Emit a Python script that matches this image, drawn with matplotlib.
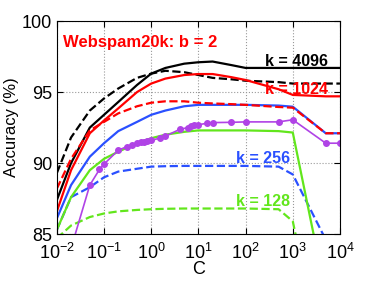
import matplotlib
matplotlib.use("Agg")
import matplotlib.pyplot as plt
import numpy as np

plt.rcParams['font.family'] = ['Liberation Sans', 'DejaVu Sans']
plt.rcParams['mathtext.fontset'] = 'custom'
plt.rcParams['mathtext.rm'] = 'Liberation Sans'
plt.rcParams['mathtext.it'] = 'Liberation Sans:italic'

# C grid for the plain lines
C = [0.01, 0.02, 0.05, 0.1, 0.2, 0.5, 1, 2, 5, 10, 20, 50, 100, 500, 1000, 5000, 10000]

acc_4096 = [87.4, 90.0, 92.5, 93.4, 94.3, 95.5, 96.3, 96.7, 97.0, 97.1, 97.15, 96.9, 96.7, 96.7, 96.7, 96.7, 96.7]
acc_4096_d = [89.3, 91.8, 93.7, 94.55, 95.25, 96.0, 96.3, 96.5, 96.4, 96.2, 96.0, 95.9, 95.8, 95.7, 95.6, 95.6, 95.6]
acc_1024 = [86.6, 89.5, 92.1, 93.0, 93.85, 95.0, 95.6, 95.95, 96.2, 96.27, 96.27, 96.05, 95.85, 95.2, 94.8, 94.7, 94.7]
acc_1024_d = [88.2, 90.3, 92.3, 92.9, 93.5, 94.0, 94.25, 94.35, 94.35, 94.25, 94.2, 94.15, 94.1, 93.95, 93.9, 92.1, 92.1]
acc_256 = [86.1, 88.45, 90.45, 91.4, 92.25, 92.9, 93.4, 93.7, 94.0, 94.1, 94.1, 94.1, 94.1, 94.05, 93.97, 92.1, 92.1]
acc_256_d = [85.3, 87.6, 88.3, 89.0, 89.4, 89.6, 89.75, 89.78, 89.8, 89.8, 89.8, 89.8, 89.8, 89.75, 89.2, 84.6, 82.5]
acc_128 = [85.3, 87.6, 89.5, 90.3, 90.8, 91.4, 91.75, 92.0, 92.2, 92.3, 92.3, 92.3, 92.3, 92.25, 92.15, 80.8, 78.0]
acc_128_d = [84.7, 85.6, 86.2, 86.45, 86.6, 86.7, 86.75, 86.78, 86.8, 86.8, 86.8, 86.8, 86.8, 86.75, 85.9, 75.0, 72.0]

# purple line with markers
C_p = [0.01, 0.02, 0.05, 0.08, 0.1, 0.2, 0.3, 0.4, 0.5, 0.6, 0.7, 0.8, 1, 1.5, 2,
       4, 6, 7, 8, 10, 15, 20, 50, 100, 500, 1000, 5000, 10000]
acc_p = [80.0, 84.0, 88.45, 89.55, 89.93, 90.9, 91.15, 91.3, 91.4, 91.45, 91.5, 91.55, 91.6, 91.75, 91.9,
         92.37, 92.5, 92.6, 92.65, 92.7, 92.8, 92.85, 92.87, 92.9, 92.9, 93.05, 91.4, 91.4]

black = 'black'
red = '#ff0000'
blue = '#2a50ff'
green = '#62e61c'
purple = '#b043e6'

fig = plt.figure(figsize=(3.74, 2.81), dpi=100)
ax = fig.add_axes([0.152, 0.167, 0.757, 0.758])

lw = 1.6
ax.plot(C, acc_4096_d, '--', color=black, lw=lw)
ax.plot(C, acc_4096, '-', color=black, lw=lw)
ax.plot(C, acc_256_d, '--', color=blue, lw=lw)
ax.plot(C, acc_128_d, '--', color=green, lw=lw)
ax.plot(C, acc_128, '-', color=green, lw=lw)
ax.plot(C_p, acc_p, '-', color=purple, lw=1.2, marker='o', ms=4, mec=purple, mfc=purple)
ax.plot(C, acc_256, '-', color=blue, lw=lw)
ax.plot(C, acc_1024, '-', color=red, lw=lw)
ax.plot(C, acc_1024_d, '--', color=red, lw=lw)

ax.set_xscale('log')
ax.set_xlim(1e-2, 1e4)
ax.set_ylim(85, 100)
ax.set_yticks([85, 90, 95, 100])
ax.set_xticks([1e-2, 1e-1, 1, 1e1, 1e2, 1e3, 1e4])

ax.grid(True, which='major', linestyle=':', color='#999999', lw=0.8)
ax.tick_params(which='both', direction='in', top=True, right=True, labelsize=13)
ax.tick_params(axis='x', which='major', pad=6)
ax.tick_params(which='major', length=4)
ax.tick_params(which='minor', length=2)
for s in ax.spines.values():
    s.set_linewidth(0.8)

ax.set_xlabel('C', fontsize=13, labelpad=-1)
ax.set_ylabel('Accuracy (%)', fontsize=12, labelpad=2)

ax.text(0.0135, 98.5, 'Webspam20k: b = 2', color=red, fontsize=12, fontweight='bold', va='center')
ax.text(2.6e2, 97.15, 'k = 4096', color=black, fontsize=11.5, fontweight='bold', va='center', ha='left')
ax.text(2.6e2, 95.2, 'k = 1024', color=red, fontsize=11.5, fontweight='bold', va='center', ha='left')
ax.text(6.2e1, 90.35, 'k = 256', color=blue, fontsize=11.5, fontweight='bold', va='center', ha='left')
ax.text(6.2e1, 87.3, 'k = 128', color=green, fontsize=11.5, fontweight='bold', va='center', ha='left')

fig.savefig('out.png', dpi=100)
